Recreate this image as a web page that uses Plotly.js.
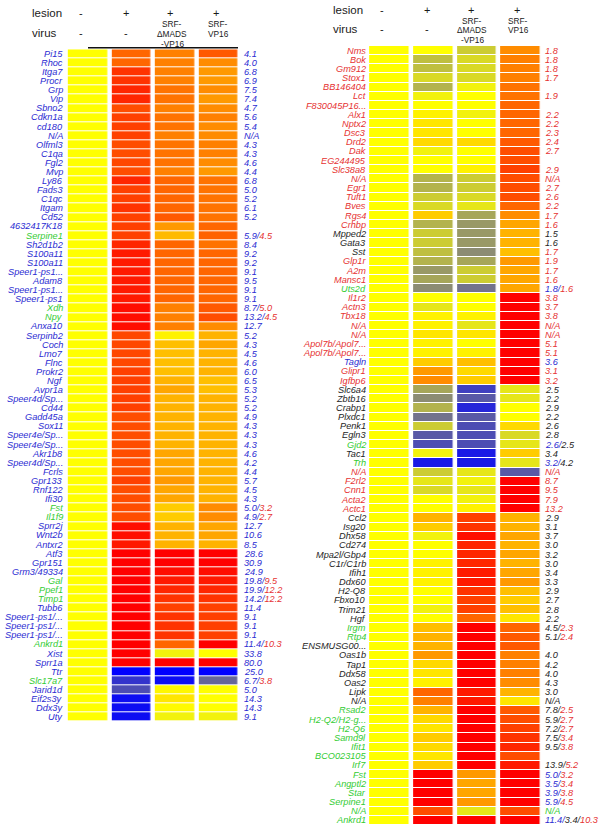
<!DOCTYPE html>
<html>
<head>
<meta charset="utf-8">
<script src="https://cdn.plot.ly/plotly-3.0.1.min.js"></script>
<style>html,body{margin:0;padding:0;background:#fff}#chart{width:600px;height:839px}</style>
</head>
<body>
<div id="chart"></div>
<script>
// ---------------- LEFT PANEL DATA ----------------
const leftGenes = ["Pi15","Rhoc","Itga7","Procr","Grp","Vip","Sbno2","Cdkn1a","cd180","N/A",
"Olfml3","C1qa","Fgl2","Mvp","Ly86","Fads3","C1qc","Itgam","Cd52","4632417K18",
"Serpine1","Sh2d1b2","S100a11","S100a11","Speer1-ps1...","Adam8","Speer1-ps1...","Speer1-ps1","Xdh","Npy",
"Anxa10","Serpinb2","Coch","Lmo7","Flnc","Prokr2","Ngf","Avpr1a","Speer4d/Sp...","Cd44",
"Gadd45a","Sox11","Speer4e/Sp...","Speer4e/Sp...","Akr1b8","Speer4d/Sp...","Fcrls","Gpr133","Rnf122","Ifi30",
"Fst","Il1f9","Sprr2j","Wnt2b","Antxr2","Atf3","Gpr151","Grm3/49334","Gal","Ppef1",
"Timp1","Tubb6","Speer1-ps1/...","Speer1-ps1/...","Speer1-ps1/...","Ankrd1","Xist","Sprr1a","Ttr","Slc17a7",
"Jarid1d","Eif2s3y","Ddx3y","Uty"];
const leftValues = ["4.1","4.0","6.8","6.9","7.5","7.4","4.7","5.6","5.4","N/A",
"4.3","4.3","4.6","4.4","6.8","5.0","5.2","6.1","5.2","",
"5.9/4.5","8.4","9.2","9.2","9.1","9.5","9.1","9.1","8.7/5.0","13.2/4.5",
"12.7","5.2","4.3","4.5","4.6","6.0","6.5","5.3","5.2","5.2",
"4.9","4.3","4.3","4.3","4.6","4.2","4.4","5.7","4.5","4.3",
"5.0/3.2","4.9/2.7","12.7","10.6","8.5","28.6","30.9","24.9","19.8/9.5","19.9/12.2",
"14.2/12.2","11.4","9.1","9.1","9.1","11.4/10.3","33.8","80.0","25.0","6.7/3.8",
"5.0","14.3","14.3","9.1"];
const leftLabelColor = ["b","b","b","b","b","b","b","b","b","b",
"b","b","b","b","b","b","b","b","b","b",
"g","b","b","b","b","b","b","b","g","g",
"b","b","b","b","b","b","b","b","b","b",
"b","b","b","b","b","b","b","b","b","b",
"g","g","b","b","b","b","b","b","g","g",
"g","b","b","b","b","g","b","b","b","g",
"b","b","b","b"];
const leftValueColor = ["b","b","b","b","b","b","b","b","b","b",
"b","b","b","b","b","b","b","b","b","b",
"br","b","b","b","b","b","b","b","br","br",
"b","b","b","b","b","b","b","b","b","b",
"b","b","b","b","b","b","b","b","b","b",
"br","br","b","b","b","b","b","b","br","br",
"br","b","b","b","b","br","b","b","b","br",
"b","b","b","b"];
// colour level per cell: -1 = blue (down), 0 = yellow, +1 = red (up)
const leftControl = [0,0,0,0,0,0,0,0,0,0, 0,0,0,0,0,0,0,0,0,0, 0,0,0,0,0,0,0,0,0,0,
0,0,0,0,0,0,0,0,0,0, 0,0,0,0,0,0,0,0,0,0, 0,0,0,0,0,0,0,0,0,0, 0,0,0,0,0,0,0,0,0,0, 0,0,0,0];
const leftLesion = [0.6,0.6,0.8,0.8,0.85,0.85,0.7,0.75,0.75,0.75,
0.7,0.7,0.72,0.7,0.85,0.75,0.75,0.8,0.75,0.75,
0.75,0.85,0.9,0.9,0.9,0.9,0.9,0.9,0.95,0.95,
0.95,0.72,0.72,0.72,0.72,0.75,0.75,0.75,0.75,0.75,
0.7,0.7,0.7,0.7,0.7,0.7,0.7,0.75,0.7,0.7,
0.7,0.7,0.95,0.95,0.9,1,1,1,1,1,
1,1,1,1,1,1,1,1,-1,-0.8,
-0.7,-0.95,-0.95,-0.95];
const leftMads = [0.5,0.5,0.5,0.5,0.55,0.55,0.5,0.55,0.55,0.5,
0.55,0.55,0.55,0.5,0.6,0.6,0.6,0.6,0.65,0.4,
0.27,0.6,0.6,0.6,0.6,0.6,0.6,0.6,0.5,0.5,
0.5,0.05,0.25,0.25,0.25,0.25,0.3,0.35,0.3,0.3,
0.3,0.3,0.3,0.3,0.35,0.35,0.35,0.4,0.35,0.35,
0.2,0.2,0.3,0.3,0.3,1,1,0.95,0.9,0.85,
0.8,0.75,0.8,0.8,0.8,0.6,-0.05,1,-1,-0.95,
0.03,0.1,0.02,-0.05];
const leftVp16 = [0.65,0.45,0.4,0.4,0.45,0.4,0.45,0.5,0.45,0.45,
0.5,0.5,0.45,0.4,0.55,0.55,0.55,0.55,0.55,0.6,
0.62,0.55,0.6,0.6,0.6,0.6,0.6,0.6,0.65,0.7,
0.45,0.3,0.35,0.3,0.3,0.3,0.25,0.25,0.3,0.3,
0.3,0.3,0.3,0.3,0.3,0.3,0.3,0.3,0.3,0.3,
0.45,0.45,0.35,0.35,0.3,1,1,0.95,0.9,0.85,
0.8,0.75,0.75,0.75,0.75,1,0,1,-1,-0.6,
0,0,0,-0.05];

// ---------------- RIGHT PANEL DATA ----------------
const rightGenes = ["Nms","Bok","Gm912","Stox1","BB146404","Lct","F830045P16...","Alx1","Nptx2","Dsc3",
"Drd2","Dak","EG244495","Slc38a8","N/A","Egr1","Tuft1","Bves","Rgs4","Crhbp",
"Mpped2","Gata3","Sst","Glp1r","A2m","Mansc1","Uts2d","Il1r2","Actn3","Tbx18",
"N/A","N/A","Apol7b/Apol7...","Apol7b/Apol7...","Tagln","Glipr1","Igfbp6","Slc6a4","Zbtb16","Crabp1",
"Plxdc1","Penk1","Egln3","Gjd2","Tac1","Trh","N/A","F2rl2","Cnn1","Acta2",
"Actc1","Ccl2","Isg20","Dhx58","Cd274","Mpa2l/Gbp4","C1r/C1rb","Ifih1","Ddx60","H2-Q8",
"Fbxo10","Trim21","Hgf","Irgm","Rtp4","ENSMUSG00...","Oas1b","Tap1","Ddx58","Oas2",
"Lipk","N/A","Rsad2","H2-Q2/H2-g...","H2-Q6","Samd9l","Ifit1","BCO023105","Irf7","Fst",
"Angptl2","Star","Serpine1","N/A","Ankrd1"];
const rightValues = ["1.8","1.8","1.8","1.7","","1.9","","2.2","2.2","2.3",
"2.4","2.7","","2.9","N/A","2.7","2.6","2.2","1.7","1.6",
"1.5","1.6","1.7","1.9","1.7","1.6","1.8/1.6","3.8","3.7","3.8",
"N/A","N/A","5.1","5.1","3.6","3.1","3.2","2.5","2.2","2.9",
"2.2","2.6","2.8","2.6/2.5","3.4","3.2/4.2","N/A","8.7","9.5","7.9",
"13.2","2.9","3.1","3.7","3.0","3.2","3.0","3.4","3.3","2.9",
"2.7","2.8","2.2","4.5/2.3","5.1/2.4","","4.0","4.2","4.0","4.3",
"3.0","N/A","7.8/2.5","5.9/2.7","7.2/2.7","7.5/3.4","9.5/3.8","","13.9/5.2","5.0/3.2",
"3.5/3.4","3.9/3.8","5.9/4.5","N/A","11.4/3.4/10.3"];
const rightLabelColor = ["r","r","r","r","r","r","r","r","r","r",
"r","r","r","r","r","r","r","r","r","r",
"k","k","k","r","r","r","g","r","r","r",
"r","r","r","r","b","r","r","k","k","k",
"k","k","k","g","k","g","r","r","r","r",
"r","k","k","k","k","k","k","k","k","k",
"k","k","k","g","g","k","k","k","k","k",
"k","k","g","g","g","g","g","g","g","g",
"g","g","g","g","g"];
const rightValueColor = ["r","r","r","r","r","r","r","r","r","r",
"r","r","r","r","r","r","r","r","r","r",
"k","k","r","r","r","r","br","r","r","r",
"r","r","r","r","b","r","r","k","k","k",
"k","k","k","bk","k","bk","r","r","r","r",
"r","k","k","k","k","k","k","k","k","k",
"k","k","k","kr","kr","k","k","k","k","k",
"k","k","kr","kr","kr","kr","kr","k","kr","br",
"br","br","br","g","bkr"];
const rightControl = [0,0,0,0,0,0,0,0,0,0, 0,0,0,0,0,0,0,0,0,0, 0,0,0,0,0,0,0,0,0,0,
0,0,0,0,0,0,0,0,0,0, 0,0,0,0,0,0,0,0,0,0, 0,0,0,0,0,0,0,0,0,0, 0,0,0,0,0,0,0,0,0,0,
0,0,0,0,0,0,0,0,0,0, 0,0,0,0,0];
const rightLesion = [0,-0.25,-0.25,-0.15,-0.3,-0.05,0,0.05,0.1,0.1,
0.15,-0.05,0,0,-0.3,-0.3,-0.2,-0.15,0.2,-0.3,
-0.2,-0.2,-0.25,-0.3,-0.4,-0.35,-0.45,0,-0.1,0.05,
0.05,0.1,0.05,0.05,0.2,0.4,0.45,-0.35,-0.45,-0.3,
-0.55,-0.2,-0.65,-0.7,-0.05,-0.9,-0.2,-0.1,-0.15,0,
0,0.3,0.2,-0.05,0,0,0.05,0.05,0.05,0,
0,-0.05,0,0.25,0.3,0.3,0.4,0.15,0.1,0.05,
0.6,0.5,0.3,0.15,0.1,0.2,0.15,0.1,0.2,1,
1,1,1,0.7,1];
const rightMads = [-0.2,-0.15,-0.15,-0.15,-0.05,0,0,-0.05,0,0,
0.15,0,0,0.05,-0.2,-0.2,-0.15,-0.1,-0.35,-0.4,
-0.4,-0.4,-0.45,-0.35,-0.2,-0.2,-0.55,0,0,0.05,
-0.1,0.1,0,0.05,0.25,0.15,0.2,-0.75,-0.65,-0.85,
-0.65,-0.7,-0.7,-0.7,-0.9,-0.9,-0.1,-0.05,-0.1,-0.05,
0.05,0.75,0.8,0.95,0.85,0.85,0.85,0.9,0.9,0.8,
0.75,0.75,0.6,1,1,1,1,1,1,1,
0.9,0.9,1,1,1,1,1,1,1,0.4,
0.35,0.35,0.4,-0.1,1];
const rightVp16 = [0.45,0.5,0.5,0.5,0.55,0.55,0.6,0.6,0.6,0.6,
0.65,0.7,0.7,0.75,0.7,0.7,0.7,0.6,0.45,0.35,
0.3,0.3,0.25,0.4,0.35,0.35,0.35,1,1,1,
1,1,1,1,1,1,1,-0.1,-0.1,0,
0,0.15,-0.15,-0.1,0.2,-0.1,-0.65,1,1,1,
1,0.3,0.3,0.35,0.3,0.35,0.3,0.35,0.4,0.25,
0.2,0.25,0.1,0.6,0.65,0.65,0.5,0.5,0.5,0.45,
0.3,0.1,0.65,0.7,0.75,0.8,0.85,0.7,0.9,1,
1,1,1,0.7,1];

// ---------------- RENDERING ----------------
const W = 600, H = 839;
const px = x => x / W;
const py = y => 1 - y / H;
const COL = {b:'#2b2bd2', g:'#33cc33', r:'#e63232', k:'#1e1e1e'};
const FONT = 'Liberation Sans, Arial, Helvetica, sans-serif';
const cscale = [[0,'#0000ff'],[0.5,'#ffff00'],[1,'#ff0000']];

function buildZ(a,b,c,d){ return a.map((v,i)=>[v,b[i],c[i],d[i]]); }
function valueHtml(str, codes){
  if(!str) return '';
  const parts = str.split('/');
  return '<i>' + parts.map((p,i)=>{
    const c = COL[codes[Math.min(i,codes.length-1)]];
    return '<span style="color:'+c+'">'+p+(i<parts.length-1?'/':'')+'</span>';
  }).join('') + '</i>';
}

const traces = [
  {type:'heatmap', z: buildZ(leftControl,leftLesion,leftMads,leftVp16),
   x:[0,1,2,3], y: leftGenes.map((g,i)=>i), colorscale:cscale, zmin:-1, zmax:1,
   showscale:false, xgap:4.5, ygap:1, hoverinfo:'skip', xaxis:'x', yaxis:'y'},
  {type:'heatmap', z: buildZ(rightControl,rightLesion,rightMads,rightVp16),
   x:[0,1,2,3], y: rightGenes.map((g,i)=>i), colorscale:cscale, zmin:-1, zmax:1,
   showscale:false, xgap:4.5, ygap:1, hoverinfo:'skip', xaxis:'x2', yaxis:'y2'}
];

const ann = [];
leftGenes.forEach((g,i)=>{
  ann.push({xref:'paper', yref:'y', x:px(64.5), y:i, xanchor:'right', yanchor:'middle',
    text:'<i>'+g+'</i>', showarrow:false, font:{family:FONT,size:9.2,color:COL[leftLabelColor[i]]}});
  if(leftValues[i]) ann.push({xref:'paper', yref:'y', x:px(241.5), y:i, xanchor:'left', yanchor:'middle',
    text:valueHtml(leftValues[i], leftValueColor[i]), showarrow:false, font:{family:FONT,size:9.2,color:COL.b}});
});
rightGenes.forEach((g,i)=>{
  ann.push({xref:'paper', yref:'y2', x:px(368), y:i, xanchor:'right', yanchor:'middle',
    text:'<i>'+g+'</i>', showarrow:false, font:{family:FONT,size:9.2,color:COL[rightLabelColor[i]]}});
  if(rightValues[i]) ann.push({xref:'paper', yref:'y2', x:px(542.5), y:i, xanchor:'left', yanchor:'middle',
    text:valueHtml(rightValues[i], rightValueColor[i]), showarrow:false, font:{family:FONT,size:9.2,color:COL.r}});
});

function hdr(text, x, y, anchor, size){
  ann.push({xref:'paper', yref:'paper', x:px(x), y:py(y), xanchor:anchor||'center', yanchor:'middle',
    text:text, showarrow:false, borderpad:0, font:{family:FONT, size:size||11, color:'#1a1a1a'}});
}
const SUB = 8.3;
// left header
hdr('lesion',31,12.5,'left',11.5); hdr('virus',31,33,'left',11.5);
hdr('-',81,12.5); hdr('+',126,12.5); hdr('+',170,12.5); hdr('+',216,12.5);
hdr('-',81,33); hdr('-',126,33);
hdr('SRF-',172,23.7,'center',SUB); hdr('\u0394MADS',172,33.6,'center',SUB); hdr('-VP16',172,43.5,'center',SUB);
hdr('SRF-',218,23.7,'center',SUB); hdr('VP16',218,33.6,'center',SUB);
// right header
hdr('lesion',332,9.5,'left',11.5); hdr('virus',332,29,'left',11.5);
hdr('-',382,9.5); hdr('+',427,9.5); hdr('+',471,9.5); hdr('+',517,9.5);
hdr('-',382,29); hdr('-',427,29);
hdr('SRF-',472,20.6,'center',SUB); hdr('\u0394MADS',472,30.2,'center',SUB); hdr('-VP16',472,39.8,'center',SUB);
hdr('SRF-',518,20.6,'center',SUB); hdr('VP16',518,30.2,'center',SUB);

const axOff = {showgrid:false, zeroline:false, showticklabels:false, ticks:'', showline:false, fixedrange:true};
const layout = {
  width:W, height:H, margin:{l:0,r:0,t:0,b:0}, paper_bgcolor:'#fff', plot_bgcolor:'#fff',
  showlegend:false,
  xaxis: Object.assign({domain:[px(65.8), px(240.2)], range:[-0.5,3.5], anchor:'y'}, axOff),
  yaxis: Object.assign({domain:[py(721.7), py(49.3)], range:[leftGenes.length-0.5,-0.5], anchor:'x'}, axOff),
  xaxis2: Object.assign({domain:[px(367.1), px(542.2)], range:[-0.5,3.5], anchor:'y2'}, axOff),
  yaxis2: Object.assign({domain:[py(825), py(46)], range:[rightGenes.length-0.5,-0.5], anchor:'x2'}, axOff),
  annotations: ann,
  shapes:[{type:'line', xref:'paper', yref:'paper', x0:px(88), x1:px(238), y0:py(47.8), y1:py(47.8),
    line:{color:'#111', width:1.5}}]
};
Plotly.newPlot('chart', traces, layout, {staticPlot:true, displayModeBar:false});
</script>
</body>
</html>
